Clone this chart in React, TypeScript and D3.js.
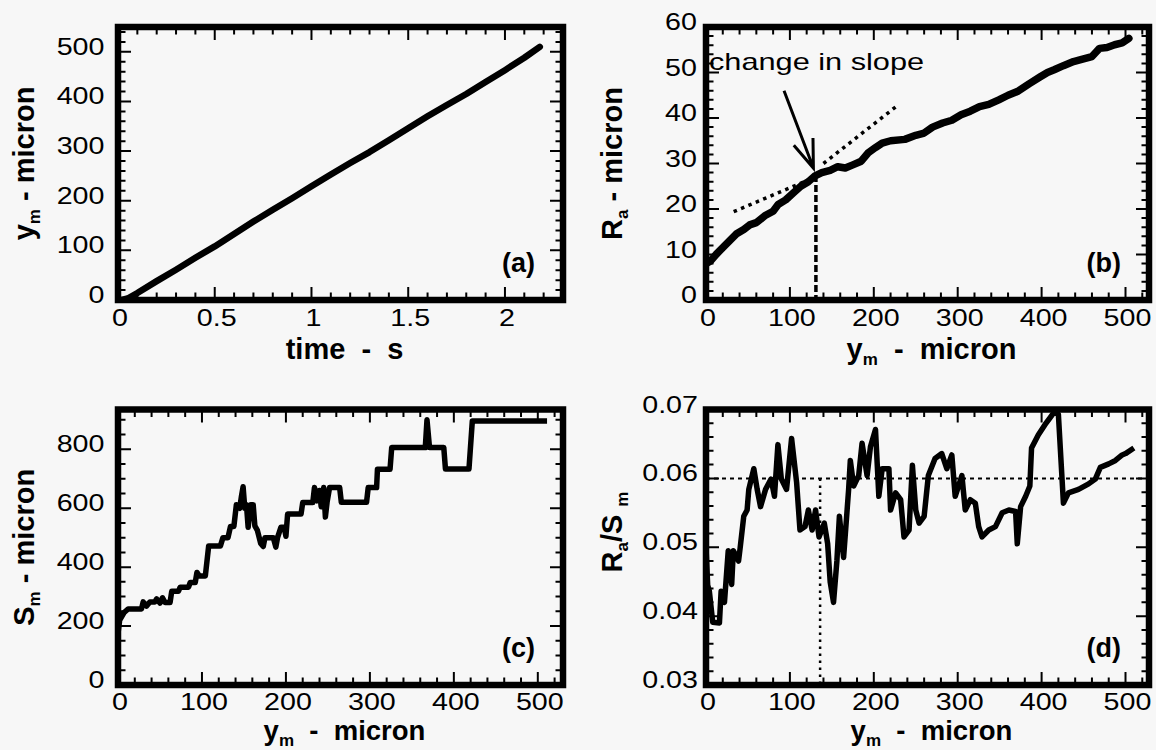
import React from "react";
import * as d3 from "d3";

const FONT = "'Liberation Sans', Arial, Helvetica, sans-serif";
const NUM_SIZE = 23.5;
const NUM_STRETCH = 1.22;
const TITLE_SIZE = 29;

// (a) sample position y_m against time
const timeA = [0.02, 0.05, 0.1, 0.2, 0.3, 0.4, 0.5, 0.6, 0.7, 0.8, 0.9, 1.0, 1.1, 1.2, 1.3, 1.4, 1.5, 1.6, 1.7, 1.8, 1.9, 2.0, 2.1, 2.18];
const ymA = [0, 3, 14, 38, 61, 85, 108, 133, 158, 182, 205, 229, 253, 276, 298, 322, 346, 370, 393, 415, 439, 463, 488, 510];
const timeTicks = [0, 0.5, 1, 1.5, 2];
const ymTicksA = [0, 100, 200, 300, 400, 500];

// (b) R_a against y_m
const ymB = [0, 5, 12, 20, 28, 36, 45, 52, 60, 70, 80, 86, 95, 104, 113, 122, 130, 138, 148, 157, 166, 175, 185, 193, 202, 210, 220, 237, 250, 260, 270, 282, 293, 304, 315, 326, 337, 349, 360, 371, 385, 398, 407, 415, 426, 438, 450, 460, 465, 469, 478, 487, 496, 504];
const raB = [8, 8.5, 10, 11.5, 13, 14.5, 15.5, 16.5, 17, 18.5, 19.5, 21, 22, 23.5, 25, 26, 27.3, 28, 28.5, 29.3, 29, 29.7, 30.5, 32.3, 33.5, 34.5, 35, 35.3, 36.2, 36.7, 38, 38.9, 39.5, 40.7, 41.5, 42.5, 43, 44, 45, 45.8, 47.5, 49, 50, 50.6, 51.5, 52.4, 53, 53.5, 54.5, 55.3, 55.5, 56.1, 56.5, 57.5];
const lowerFitYm = [33, 130];
const lowerFitRa = [19.4, 27];
const upperFitYm = [140, 230];
const upperFitRa = [30, 43];
const slopeChange = [131, 27.5];
const arrowTail = [93, 46];
const arrowTip = [128, 29];
const noteAt = [3.6, 50.6];
const raTicks = [0, 10, 20, 30, 40, 50, 60];

// (c) S_m against y_m
const ymC = [0, 2, 7, 12, 28, 30, 34, 38, 44, 46, 50, 53, 56, 62, 64, 72, 74, 84, 86, 92, 94, 97, 104, 108, 122, 125, 131, 134, 138, 141, 145, 147, 149, 151, 153, 155, 158, 161, 163, 166, 170, 173, 175, 185, 188, 190, 194, 198, 200, 202, 218, 220, 232, 234, 237, 240, 242, 245, 247, 249, 252, 264, 266, 296, 298, 308, 309, 324, 326, 366, 368, 371, 388, 390, 418, 422, 511];
const smC = [175, 220, 245, 258, 258, 282, 268, 282, 282, 292, 278, 296, 280, 280, 318, 318, 332, 332, 348, 348, 382, 370, 370, 472, 472, 500, 500, 538, 538, 612, 600, 640, 673, 600, 612, 535, 612, 612, 540, 525, 480, 470, 500, 500, 468, 500, 535, 535, 505, 580, 580, 619, 619, 670, 625, 660, 605, 670, 570, 620, 670, 670, 620, 620, 670, 670, 732, 732, 806, 806, 900, 806, 806, 733, 733, 896, 896];
const smTicks = [0, 200, 400, 600, 800];

// (d) R_a / S_m against y_m
const ymD = [0, 2, 4, 8, 16, 18, 22, 26.5, 30.6, 32.6, 38.8, 40.8, 45, 49, 51, 57, 61, 65, 71, 77.5, 81.6, 85.7, 89.8, 96, 102, 108, 112, 118, 122, 126.5, 130.6, 134.7, 141, 145, 148, 152, 156, 159, 164, 170, 172, 176, 182, 186, 192, 196, 202, 206, 210, 218, 220, 226, 232, 236, 242, 246, 250, 254, 260, 265, 273, 281, 287, 293, 297, 305, 309, 315, 321, 325, 329, 337, 345, 353, 361, 369, 371, 375, 381, 386, 388, 396, 404, 410, 416, 420, 426, 432, 444, 456, 464, 470, 480, 488, 496, 500, 510];
const ratioD = [0.05, 0.0445, 0.0436, 0.0391, 0.039, 0.0436, 0.042, 0.0495, 0.0446, 0.0495, 0.048, 0.05, 0.0545, 0.0554, 0.0584, 0.0614, 0.0584, 0.0559, 0.0584, 0.0599, 0.0574, 0.0649, 0.0599, 0.0584, 0.0658, 0.0594, 0.0525, 0.053, 0.0554, 0.0525, 0.0554, 0.0515, 0.0535, 0.0505, 0.045, 0.042, 0.048, 0.0545, 0.0485, 0.0584, 0.0626, 0.0589, 0.0604, 0.0651, 0.0604, 0.0646, 0.0671, 0.0574, 0.0614, 0.0614, 0.0554, 0.0579, 0.0569, 0.0515, 0.0525, 0.0619, 0.0554, 0.0535, 0.0545, 0.0604, 0.0629, 0.0636, 0.0614, 0.0634, 0.0574, 0.0604, 0.0554, 0.0569, 0.0564, 0.053, 0.0515, 0.0525, 0.053, 0.055, 0.0554, 0.0552, 0.0505, 0.0559, 0.0574, 0.0589, 0.0644, 0.0663, 0.0678, 0.0688, 0.0698, 0.0693, 0.0564, 0.0579, 0.0584, 0.0592, 0.0599, 0.0616, 0.0621, 0.0626, 0.0634, 0.0636, 0.0644];
const ratioRef = 0.06;
const markYmD = 136;
const ratioTicks = [0.03, 0.04, 0.05, 0.06, 0.07];

const ymTicks = [0, 100, 200, 300, 400, 500];

type Box = { l: number; t: number; r: number; b: number };
type Part = { t: string; sub?: boolean; dx?: number };
type Sc = d3.ScaleLinear<number, number>;

const Num = ({ x, y, anchor, text }: { x: number; y: number; anchor: string; text: string }) => (
  <text
    transform={`translate(${x},${y}) scale(${NUM_STRETCH},1)`}
    textAnchor={anchor}
    fontFamily={FONT}
    fontSize={NUM_SIZE}
    fill="#000"
  >
    {text}
  </text>
);

function Title({ parts, x, y, rotate, size = TITLE_SIZE }: { parts: Part[]; x: number; y: number; rotate?: boolean; size?: number }) {
  const spans: React.ReactNode[] = [];
  let shifted = false;
  const drop = 6;
  parts.forEach((p, i) => {
    let dy = 0;
    if (p.sub && !shifted) { dy = drop; shifted = true; }
    if (!p.sub && shifted) { dy = -drop; shifted = false; }
    spans.push(
      <tspan key={i} dy={dy} dx={p.dx || 0} fontSize={p.sub ? 17 : size}>
        {p.t}
      </tspan>
    );
  });
  return (
    <text
      transform={`translate(${x},${y})${rotate ? " rotate(-90)" : ""}`}
      textAnchor="middle"
      fontFamily={FONT}
      fontWeight="bold"
      fontSize={size}
      style={{ whiteSpace: "pre" }}
    >
      {spans}
    </text>
  );
}

function minorTicks(domain: number[], step: number, majors: number[]) {
  const [d0, d1] = domain;
  const out: number[] = [];
  const start = Math.ceil(d0 / step - 1e-6);
  for (let k = start; k * step <= d1 + 1e-9; k++) {
    const v = +(k * step).toFixed(6);
    if (v <= d0 + step / 10 || v >= d1 - step / 10) continue;
    if (majors.some((m) => Math.abs(m - v) < step / 10)) continue;
    out.push(v);
  }
  return out;
}

type PanelProps = {
  id: string;
  box: Box;
  xDomain: [number, number];
  yDomain: [number, number];
  xTicks: number[];
  xMinor: number;
  yTicks: number[];
  yMinor: number;
  xFmt: (v: number) => string;
  yFmt: (v: number) => string;
  yLabelGap: number;
  xLabelDrop: number;
  label: string;
  xTitle: Part[];
  xTitleY: number;
  xTitleSize?: number;
  yTitle: Part[];
  yTitleX: number;
  yTitleY?: number;
  children: (x: Sc, y: Sc) => React.ReactNode;
};

function Panel(p: PanelProps) {
  const { box } = p;
  const x = d3.scaleLinear().domain(p.xDomain).range([box.l, box.r]);
  const y = d3.scaleLinear().domain(p.yDomain).range([box.b, box.t]);
  const MAJ = 13;
  const MIN = 7.5;
  const inner = (v: number, d: number[]) => v > d[0] + 1e-9 && v < d[1] - 1e-9;
  const xMaj = p.xTicks.filter((v) => inner(v, p.xDomain));
  const yMaj = p.yTicks.filter((v) => inner(v, p.yDomain));
  const xMin = minorTicks(p.xDomain, p.xMinor, p.xTicks);
  const yMin = minorTicks(p.yDomain, p.yMinor, p.yTicks);
  let ticks = "";
  xMaj.forEach((v) => {
    const px = x(v);
    ticks += `M${px},${box.b}V${box.b - MAJ}M${px},${box.t}V${box.t + MAJ}`;
  });
  xMin.forEach((v) => {
    const px = x(v);
    ticks += `M${px},${box.b}V${box.b - MIN}M${px},${box.t}V${box.t + MIN}`;
  });
  yMaj.forEach((v) => {
    const py = y(v);
    ticks += `M${box.l},${py}H${box.l + MAJ}M${box.r},${py}H${box.r - MAJ}`;
  });
  yMin.forEach((v) => {
    const py = y(v);
    ticks += `M${box.l},${py}H${box.l + MIN}M${box.r},${py}H${box.r - MIN}`;
  });
  return (
    <g>
      <defs>
        <clipPath id={p.id}>
          <rect x={box.l} y={box.t} width={box.r - box.l} height={box.b - box.t} />
        </clipPath>
      </defs>
      <g clipPath={`url(#${p.id})`}>{p.children(x, y)}</g>
      <path d={ticks} stroke="#000" strokeWidth={2} fill="none" />
      <rect
        x={box.l}
        y={box.t}
        width={box.r - box.l}
        height={box.b - box.t}
        fill="none"
        stroke="#000"
        strokeWidth={6.5}
      />
      {p.xTicks.map((v) => (
        <Num key={`x${v}`} x={x(v) + 2} y={box.b + p.xLabelDrop} anchor="middle" text={p.xFmt(v)} />
      ))}
      {p.yTicks.map((v) => (
        <Num key={`y${v}`} x={box.l - p.yLabelGap} y={y(v) + 3} anchor="end" text={p.yFmt(v)} />
      ))}
      <text
        x={box.r - 28}
        y={box.b - 28}
        textAnchor="end"
        fontFamily={FONT}
        fontWeight="bold"
        fontSize={27}
      >
        {p.label}
      </text>
      <Title parts={p.xTitle} x={(box.l + box.r) / 2 + 4} y={p.xTitleY} size={p.xTitleSize} />
      <Title parts={p.yTitle} x={p.yTitleX} y={p.yTitleY ?? (box.t + box.b) / 2} rotate />
    </g>
  );
}

const ymTitle: Part[] = [{ t: "y" }, { t: "m", sub: true }, { t: "  -  micron" }];

export default function App() {
  const lineGen = (x: Sc, y: Sc) =>
    d3
      .line<[number, number]>()
      .x((d) => x(d[0]))
      .y((d) => y(d[1]));

  const boxA: Box = { l: 118, t: 27, r: 563, b: 300 };
  const boxB: Box = { l: 706, t: 27, r: 1149, b: 300 };
  const boxC: Box = { l: 118, t: 409.5, r: 563, b: 685 };
  const boxD: Box = { l: 706, t: 409.5, r: 1149, b: 685 };

  const xB = d3.scaleLinear().domain([0, 528]).range([boxB.l, boxB.r]);
  const yB = d3.scaleLinear().domain([0, 60]).range([boxB.b, boxB.t]);

  const fmtInt = (v: number) => String(v);
  const fmtRatio = (v: number) => v.toFixed(2);

  return (
    <svg
      width={1156}
      height={750}
      viewBox="0 0 1156 750"
      style={{ position: "absolute", left: 0, top: 0, display: "block" }}
    >
      <rect x={0} y={0} width={1156} height={750} fill="#f7f7f7" />

      {/* (a) */}
      <Panel
        id="clipA"
        box={boxA}
        xDomain={[0, 2.3]}
        yDomain={[0, 550]}
        xTicks={timeTicks}
        xMinor={0.1}
        yTicks={ymTicksA}
        yMinor={20}
        xFmt={fmtInt}
        yFmt={fmtInt}
        yLabelGap={13.5}
        xLabelDrop={25.5}
        label="(a)"
        xTitle={[{ t: "time  -  s" }]}
        xTitleY={359}
        yTitle={[{ t: "y" }, { t: "m", sub: true }, { t: " - micron" }]}
        yTitleX={34}
      >
        {(x, y) => (
          <path
            d={lineGen(x, y)(timeA.map((t, i) => [t, ymA[i]] as [number, number])) || ""}
            fill="none"
            stroke="#000"
            strokeWidth={6.5}
            strokeLinejoin="round"
            strokeLinecap="round"
          />
        )}
      </Panel>

      {/* (b) */}
      <Panel
        id="clipB"
        box={boxB}
        xDomain={[0, 528]}
        yDomain={[0, 60]}
        xTicks={ymTicks}
        xMinor={20}
        yTicks={raTicks}
        yMinor={2}
        xFmt={fmtInt}
        yFmt={fmtInt}
        yLabelGap={9}
        xLabelDrop={25.5}
        label="(b)"
        xTitle={ymTitle}
        xTitleY={359}
        yTitle={[{ t: "R" }, { t: "a", sub: true }, { t: " - micron" }]}
        yTitleX={622}
      >
        {(x, y) => {
          const lg = lineGen(x, y);
          const tx = x(arrowTail[0]);
          const ty = y(arrowTail[1]);
          const hx = x(arrowTip[0]);
          const hy = y(arrowTip[1]);
          const ang = Math.atan2(hy - ty, hx - tx);
          const headLen = 30;
          const spread = (20 * Math.PI) / 180;
          const a1 = ang + Math.PI - spread;
          const a2 = ang + Math.PI + spread;
          return (
            <g>
              <path
                d={lg(ymB.map((v, i) => [v, raB[i]] as [number, number])) || ""}
                fill="none"
                stroke="#000"
                strokeWidth={7.5}
                strokeLinejoin="round"
                strokeLinecap="round"
              />
              <path
                d={lg(lowerFitYm.map((v, i) => [v, lowerFitRa[i]] as [number, number])) || ""}
                fill="none"
                stroke="#000"
                strokeWidth={3.5}
                strokeDasharray="3.5 4.5"
              />
              <path
                d={lg(upperFitYm.map((v, i) => [v, upperFitRa[i]] as [number, number])) || ""}
                fill="none"
                stroke="#000"
                strokeWidth={3.5}
                strokeDasharray="3.5 4.5"
              />
              <line
                x1={x(slopeChange[0])}
                x2={x(slopeChange[0])}
                y1={y(slopeChange[1])}
                y2={y(0)}
                stroke="#000"
                strokeWidth={3.5}
                strokeDasharray="7 3"
              />
              <path
                d={`M${tx},${ty}L${hx},${hy}M${hx + headLen * Math.cos(a1)},${hy + headLen * Math.sin(a1)}L${hx},${hy}L${hx + headLen * Math.cos(a2)},${hy + headLen * Math.sin(a2)}`}
                fill="none"
                stroke="#000"
                strokeWidth={3}
              />
            </g>
          );
        }}
      </Panel>
      <text
        transform={`translate(${xB(noteAt[0])},${yB(noteAt[1])}) scale(1.28,1)`}
        fontFamily={FONT}
        fontSize={24}
      >
        change in slope
      </text>

      {/* (c) */}
      <Panel
        id="clipC"
        box={boxC}
        xDomain={[0, 530]}
        yDomain={[0, 935]}
        xTicks={ymTicks}
        xMinor={20}
        yTicks={smTicks}
        yMinor={50}
        xFmt={fmtInt}
        yFmt={fmtInt}
        yLabelGap={13.5}
        xLabelDrop={25}
        label="(c)"
        xTitle={ymTitle}
        xTitleY={740}
        xTitleSize={27.5}
        yTitle={[{ t: "S" }, { t: "m", sub: true }, { t: " - micron" }]}
        yTitleX={34}
      >
        {(x, y) => (
          <path
            d={lineGen(x, y)(ymC.map((v, i) => [v, smC[i]] as [number, number])) || ""}
            fill="none"
            stroke="#000"
            strokeWidth={5.5}
            strokeLinejoin="round"
          />
        )}
      </Panel>

      {/* (d) */}
      <Panel
        id="clipD"
        box={boxD}
        xDomain={[0, 528]}
        yDomain={[0.03, 0.07]}
        xTicks={ymTicks}
        xMinor={20}
        yTicks={ratioTicks}
        yMinor={0.002}
        xFmt={fmtInt}
        yFmt={fmtRatio}
        yLabelGap={8}
        xLabelDrop={25}
        label="(d)"
        xTitle={ymTitle}
        xTitleY={740}
        xTitleSize={27.5}
        yTitle={[{ t: "R" }, { t: "a", sub: true }, { t: "/S" }, { t: "m", sub: true, dx: 8 }]}
        yTitleX={622}
        yTitleY={532}
      >
        {(x, y) => (
          <g>
            <line
              x1={x(0)}
              x2={x(528)}
              y1={y(ratioRef)}
              y2={y(ratioRef)}
              stroke="#000"
              strokeWidth={2}
              strokeDasharray="4 4"
            />
            <line
              x1={x(markYmD)}
              x2={x(markYmD)}
              y1={y(ratioRef)}
              y2={y(0.03)}
              stroke="#000"
              strokeWidth={2.5}
              strokeDasharray="2.5 4.5"
            />
            <path
              d={lineGen(x, y)(ymD.map((v, i) => [v, ratioD[i]] as [number, number])) || ""}
              fill="none"
              stroke="#000"
              strokeWidth={5.5}
              strokeLinejoin="round"
            />
          </g>
        )}
      </Panel>
    </svg>
  );
}
